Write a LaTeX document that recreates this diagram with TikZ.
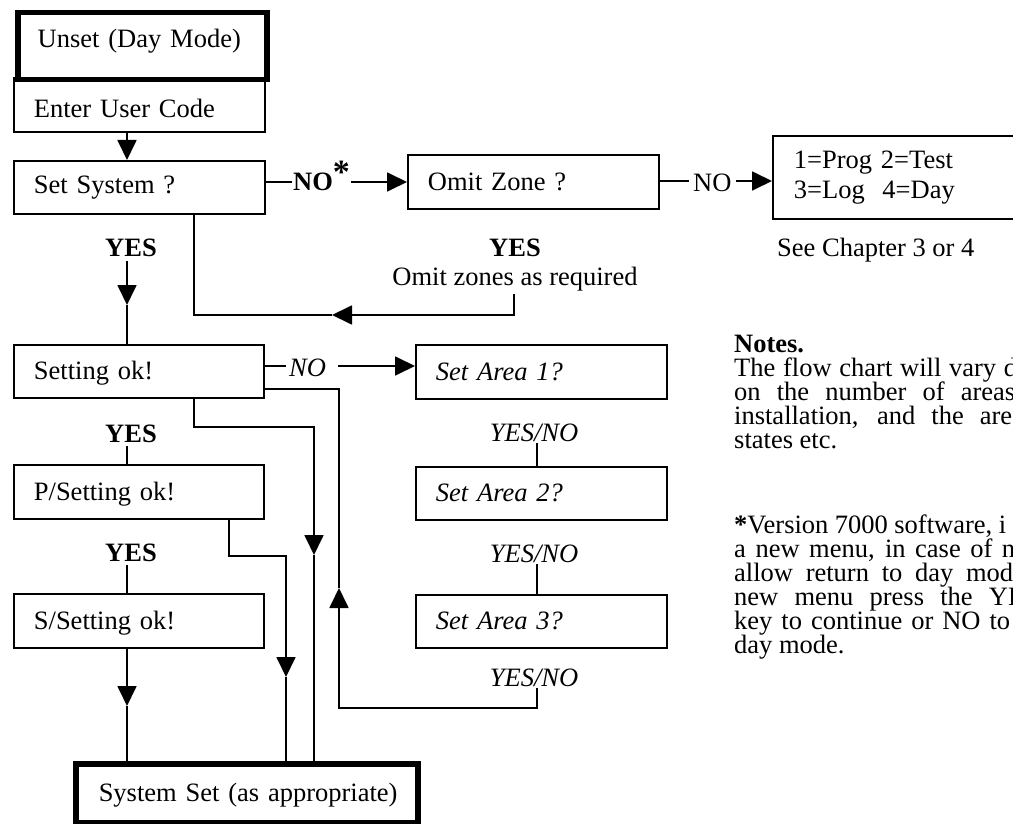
\documentclass[tikz,border=0pt]{standalone}
\usepackage{fontspec}
\setmainfont{Liberation Serif}
\usetikzlibrary{arrows.meta}
\newcommand\fs{\fontsize{26.5}{30}\selectfont}
\begin{document}
\begin{tikzpicture}[x=1pt,y=-1pt,
  every node/.style={font=\fs},
  ln/.style={line width=1.8pt},
  arr/.style={line width=1.8pt,-{Triangle[length=20pt,width=19pt]}},
  box/.style={draw,line width=1.8pt,anchor=north west,inner xsep=20pt,inner ysep=0pt,align=left},
  boxs/.style={box,text height=19.5pt,text depth=2.5pt},
  tbox/.style={boxs,line width=5.5pt},
  lbl/.style={inner xsep=1pt,inner ysep=4pt,text depth=0pt,anchor=base},
  note/.style={inner sep=0pt,anchor=base west}
]
\useasboundingbox (0,0) rectangle (1013,824);
\clip (0,0) rectangle (1013,824);

% guide coordinates
\coordinate (xL) at (127,0);
\coordinate (x194) at (194,0);
\coordinate (x229) at (229,0);
\coordinate (x286) at (286,0);
\coordinate (x314) at (314,0);
\coordinate (x514) at (514,0);
\coordinate (x537) at (537,0);
\coordinate (rA) at (0,182);
\coordinate (rB) at (0,181);
\coordinate (rC) at (0,366);
\coordinate (r389) at (0,389);
\coordinate (t1) at (127,305);
\coordinate (t2) at (332,315);
\coordinate (c339) at (339,708);
\coordinate (t3) at (339,588);
\coordinate (c314) at (314,427);
\coordinate (t4) at (314,555);
\coordinate (c286) at (286,556);
\coordinate (t5) at (286,677);
\coordinate (t6) at (127,706);

% boxes
\node[boxs,minimum width=251pt,minimum height=54pt,text width=211pt] (enter) at (13,77) {\raisebox{-4pt}{Enter User Code}};
\node[tbox,minimum width=249pt,minimum height=67pt,text width=209pt] (unset) at (15,10) {\raisebox{7pt}{Unset (Day Mode)}};
\node[boxs,minimum width=251pt,minimum height=53pt,text width=211pt] (setsys) at (13,160) {\raisebox{2pt}{Set System ?}};
\node[boxs,minimum width=251pt,minimum height=54pt,text width=211pt] (omit) at (407,154) {Omit Zone ?};
\node[box,minimum width=270pt,minimum height=83pt,text width=228pt,inner xsep=21pt] (prog) at (772,135) {\raisebox{-3pt}{1=Prog 2=Test}\\\raisebox{-3pt}{3=Log\ \ 4=Day}};
\node[boxs,minimum width=250pt,minimum height=53pt,text width=210pt] (setok) at (13,344) {Setting ok!};
\node[boxs,minimum width=250pt,minimum height=54pt,text width=210pt] (psetok) at (13,464) {P/Setting ok!};
\node[boxs,minimum width=250pt,minimum height=54pt,text width=210pt] (ssetok) at (13,593) {S/Setting ok!};
\node[boxs,minimum width=251pt,minimum height=54pt,text width=211pt,font=\fs\itshape] (area1) at (415,344) {Set Area 1?};
\node[boxs,minimum width=251pt,minimum height=53pt,text width=211pt,font=\fs\itshape] (area2) at (415,466) {Set Area 2?};
\node[boxs,minimum width=251pt,minimum height=53pt,text width=211pt,font=\fs\itshape] (area3) at (415,594) {Set Area 3?};
\node[tbox,minimum width=342pt,minimum height=59pt,text width=296pt,inner xsep=23pt] (sysset) at (73,761) {\mbox{System Set (as appropriate)}};

% labels
\node[lbl,font=\fs\bfseries] (yes1) at (131,257) {YES};
\node[lbl,anchor=base west,font=\fs\bfseries] (no1) at (292,191) {NO\smash{\raisebox{7pt}{\fontsize{34}{34}\selectfont *}}};
\node[lbl,anchor=base west,inner xsep=4pt] (no2) at (689,192) {NO};
\node[lbl,font=\fs\bfseries] (yes2) at (515,257) {YES};
\node[anchor=base,inner sep=3pt] (omitreq) at (515,285) {Omit zones as required};
\node[note] (seech) at (777,257) {See Chapter 3 or 4};
\node[lbl,anchor=base west,inner xsep=3pt,font=\fs\itshape] (noi) at (286,376) {NO};
\node[lbl,font=\fs\bfseries] (yes3) at (131,442) {YES};
\node[lbl,font=\fs\bfseries] (yes4) at (131,561) {YES};
\node[lbl,inner ysep=2pt,font=\fs\itshape] (yn1) at (534,441) {YES/NO};
\node[lbl,inner ysep=2pt,font=\fs\itshape] (yn2) at (534,562) {YES/NO};
\node[lbl,inner ysep=2pt,font=\fs\itshape] (yn3) at (534,686) {YES/NO};

% notes
\node[note,font=\fs\bfseries] (n0) at (734,352) {Notes.};
\node[note] (n1) at (734,376) {\makebox[283pt][s]{The flow chart will vary d}};
\node[note] (n2) at (734,400) {\makebox[281pt][s]{on the number of areas}};
\node[note] (n3) at (734,424) {\makebox[278pt][s]{installation, and the are}};
\node[note] (n4) at (734,448) {states etc.};
\node[note] (n5) at (734,533) {\makebox[272pt][s]{\textbf{*}Version 7000 software, i}};
\node[note] (n6) at (734,557) {\makebox[281pt][s]{a new menu, in case of n}};
\node[note] (n7) at (734,581) {\makebox[279pt][s]{allow return to day mod}};
\node[note] (n8) at (734,605) {\makebox[290pt][s]{new menu press the YE}};
\node[note] (n9) at (734,629) {\makebox[276pt][s]{key to continue or NO to}};
\node[note] (n10) at (734,653) {day mode.};

% connectors
\draw[arr] (enter.south -| xL) -- (setsys.north -| xL);
\draw[ln] (setsys.east |- rA) -- (no1.west |- rA);
\draw[arr] (no1.east |- rA) -- (omit.west |- rA);
\draw[ln] (omit.east |- rB) -- (no2.west |- rB);
\draw[arr] (no2.east |- rB) -- (prog.west |- rB);
\draw[arr] (yes1.south -| xL) -- (t1);
\draw[ln] (t1) -- (setok.north -| xL);
\draw[arr] (omitreq.south -| x514) |- (t2);
\draw[ln] (t2) -| (setsys.south -| x194);
\draw[ln] (setok.east |- rC) -- (noi.west |- rC);
\draw[arr] ([xshift=9pt]noi.east |- rC) -- (area1.west |- rC);
\draw[ln] (yn1.south -| x537) -- (area2.north -| x537);
\draw[ln] (yn2.south -| x537) -- (area3.north -| x537);
\draw[arr] (yn3.south -| x537) |- (c339) -- (t3);
\draw[ln] (t3) |- (setok.east |- r389);
\draw[arr] (setok.south -| x194) |- (c314) -- (t4);
\draw[ln] (t4) -- (sysset.north -| x314);
\draw[arr] (psetok.south -| x229) |- (c286) -- (t5);
\draw[ln] (t5) -- (sysset.north -| x286);
\draw[ln] (yes3.south -| xL) -- (psetok.north -| xL);
\draw[ln] (yes4.south -| xL) -- (ssetok.north -| xL);
\draw[arr] (ssetok.south -| xL) -- (t6);
\draw[ln] (t6) -- (sysset.north -| xL);
\end{tikzpicture}
\end{document}
